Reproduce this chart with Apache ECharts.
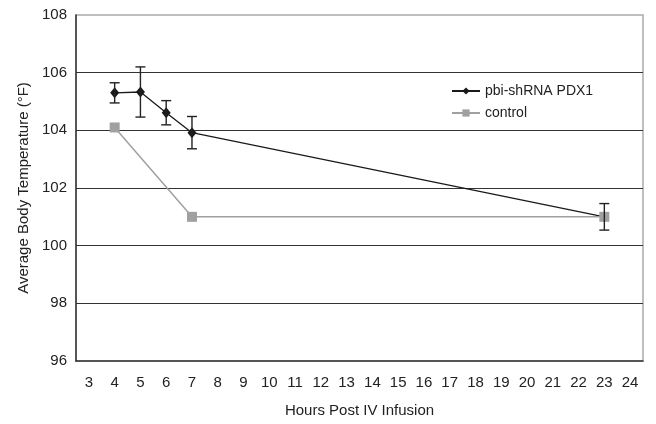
<!DOCTYPE html>
<html><head><meta charset="utf-8">
<script src="https://cdn.jsdelivr.net/npm/echarts@6/dist/echarts.min.js"></script>
<style>html,body{margin:0;padding:0;background:#fff}#c{width:656px;height:424px}</style>
</head><body><div id="c"></div>
<script>
var categories = ['3','4','5','6','7','8','9','10','11','12','13','14','15','16','17','18','19','20','21','22','23','24'];
var pdxHours = ['4','5','6','7','23'];
var pdxValues = [105.3, 105.33, 104.61, 103.92, 101.0];
var pdxErrors = [0.35, 0.87, 0.42, 0.56, 0.46];
var controlHours = ['4','7','23'];
var controlValues = [104.1, 101.0, 101.0];
var yTicks = [96, 98, 100, 102, 104, 106, 108];

var pdxData = pdxHours.map(function(h,i){return [h, pdxValues[i]];});
var ctlData = controlHours.map(function(h,i){return [h, controlValues[i]];});
var errData = pdxHours.map(function(h,i){return [h, pdxValues[i]-pdxErrors[i], pdxValues[i]+pdxErrors[i]];});

var font = 'Liberation Sans, Arial, sans-serif';
var chart = echarts.init(document.getElementById('c'), null, {renderer:'canvas'});
chart.setOption({
  animation:false,
  textStyle:{fontFamily:font},
  grid:{left:76,right:13,top:15,bottom:63,show:true,borderColor:'#aaa',borderWidth:1.5,containLabel:false},
  legend:{
    left:446, top:79, orient:'vertical', itemGap:8, itemWidth:28, itemHeight:9,
    textStyle:{fontFamily:font,fontSize:14,color:'#222'},
    data:['pbi-shRNA PDX1','control']
  },
  xAxis:{
    type:'category', data:categories, boundaryGap:true,
    axisLine:{lineStyle:{color:'#333',width:1.5}},
    axisTick:{show:false},
    axisLabel:{color:'#222',fontSize:15,margin:14,fontFamily:font,interval:0},
    name:'Hours Post IV Infusion', nameLocation:'middle', nameGap:42,
    nameTextStyle:{color:'#222',fontSize:15,fontFamily:font},
    splitLine:{show:false}
  },
  yAxis:{
    type:'value', min:96, max:108, interval:2,
    axisLine:{show:true,lineStyle:{color:'#333',width:1.5}},
    axisTick:{show:false},
    axisLabel:{color:'#222',fontSize:15,margin:9,fontFamily:font},
    splitLine:{show:true,showMaxLine:false,showMinLine:false,lineStyle:{color:'#333',width:1.2}},
    name:'Average Body Temperature (°F)', nameLocation:'middle', nameGap:41,
    nameTextStyle:{color:'#222',fontSize:15,fontFamily:font}
  },
  series:[
    {
      name:'pbi-shRNA PDX1', type:'line', data:pdxData, symbol:'diamond', symbolSize:[9,11],
      itemStyle:{color:'#1a1a1a'}, lineStyle:{color:'#1a1a1a',width:1.3}, z:3
    },
    {
      name:'control', type:'line', data:ctlData, symbol:'rect', symbolSize:10,
      itemStyle:{color:'#a0a0a0'}, lineStyle:{color:'#a0a0a0',width:1.5}, z:4
    },
    {
      name:'err', type:'custom', data:errData, encode:{x:0,y:[1,2]}, z:5,
      renderItem:function(params, api){
        var x = api.value(0);
        var lo = api.coord([x, api.value(1)]);
        var hi = api.coord([x, api.value(2)]);
        var w = 5;
        var st = {stroke:'#222', lineWidth:1.4};
        return {type:'group', children:[
          {type:'line', shape:{x1:lo[0],y1:lo[1],x2:hi[0],y2:hi[1]}, style:st},
          {type:'line', shape:{x1:lo[0]-w,y1:lo[1],x2:lo[0]+w,y2:lo[1]}, style:st},
          {type:'line', shape:{x1:hi[0]-w,y1:hi[1],x2:hi[0]+w,y2:hi[1]}, style:st}
        ]};
      }
    }
  ]
});
</script></body></html>
